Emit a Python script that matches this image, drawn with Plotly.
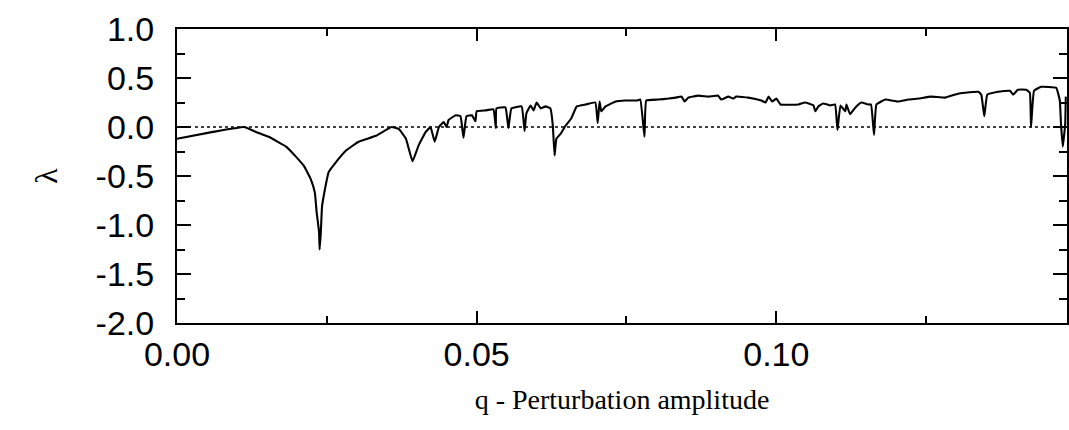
import plotly.graph_objects as go

# q - perturbation amplitude and Lyapunov exponent lambda
q_vals = [0.0000, 0.0060, 0.0112, 0.0132, 0.0153, 0.0182, 0.0198, 0.0212, 0.0223, 0.0230, 0.0233,
          0.0237, 0.0238, 0.0240, 0.0242, 0.0247, 0.0253, 0.0265, 0.0282, 0.0303, 0.0332,
          0.0358, 0.0370, 0.0382, 0.0393, 0.0403, 0.0415, 0.0423, 0.0430, 0.0437, 0.0445,
          0.0450, 0.0453, 0.0465, 0.0473, 0.0478, 0.0483, 0.0492, 0.0498, 0.0500, 0.0515,
          0.0528, 0.0532, 0.0533, 0.0548, 0.0553, 0.0558, 0.0575, 0.0580, 0.0583, 0.0590,
          0.0595, 0.0600, 0.0607, 0.0615, 0.0623, 0.0627, 0.0630, 0.0633, 0.0640, 0.0648,
          0.0658, 0.0667, 0.0682, 0.0698, 0.0702, 0.0705, 0.0708, 0.0715, 0.0732, 0.0748,
          0.0767, 0.0773, 0.0780, 0.0783, 0.0803, 0.0820, 0.0832, 0.0842, 0.0847, 0.0853,
          0.0870, 0.0887, 0.0903, 0.0908, 0.0920, 0.0928, 0.0933, 0.0953, 0.0975, 0.0982,
          0.0987, 0.0993, 0.1000, 0.1007, 0.1037, 0.1048, 0.1062, 0.1065, 0.1070, 0.1078,
          0.1090, 0.1098, 0.1102, 0.1107, 0.1115, 0.1117, 0.1123, 0.1132, 0.1142, 0.1153,
          0.1158, 0.1163, 0.1167, 0.1182, 0.1203, 0.1220, 0.1237, 0.1258, 0.1282, 0.1303,
          0.1315, 0.1337, 0.1342, 0.1347, 0.1352, 0.1370, 0.1390, 0.1395, 0.1403, 0.1417,
          0.1423, 0.1425, 0.1430, 0.1442, 0.1467, 0.1473, 0.1475, 0.1478, 0.1482, 0.1483]
lambda_vals = [-0.12, -0.05, 0.00, -0.05, -0.10, -0.20, -0.30, -0.40, -0.53, -0.67, -0.87,
               -1.07, -1.25, -1.07, -0.81, -0.63, -0.46, -0.36, -0.24, -0.15, -0.09,
               0.00, -0.02, -0.12, -0.35, -0.19, -0.05, 0.00, -0.15, 0.00, 0.05,
               0.00, 0.07, 0.12, 0.11, -0.11, 0.11, 0.12, 0.06, 0.16, 0.17,
               0.18, -0.01, 0.19, 0.20, -0.01, 0.19, 0.21, -0.04, 0.14, 0.22,
               0.17, 0.25, 0.19, 0.21, 0.19, 0.02, -0.29, -0.12, -0.07, 0.01,
               0.09, 0.21, 0.23, 0.25, 0.04, 0.26, 0.16, 0.21, 0.26, 0.27,
               0.27, 0.28, -0.10, 0.27, 0.28, 0.29, 0.30, 0.31, 0.26, 0.30,
               0.32, 0.31, 0.32, 0.28, 0.31, 0.29, 0.31, 0.30, 0.27, 0.25,
               0.31, 0.26, 0.29, 0.23, 0.23, 0.25, 0.22, 0.16, 0.21, 0.24,
               0.22, 0.23, -0.03, 0.22, 0.16, 0.23, 0.13, 0.20, 0.25, 0.23,
               0.23, -0.08, 0.23, 0.28, 0.26, 0.28, 0.29, 0.31, 0.30, 0.34,
               0.35, 0.36, 0.33, 0.11, 0.33, 0.36, 0.37, 0.33, 0.38, 0.38,
               0.35, 0.00, 0.37, 0.41, 0.40, 0.27, 0.03, -0.20, 0.03, 0.31]

# zero reference (dotted)
zero_q = [0.003, 0.146]
zero_lambda = [0.0, 0.0]

x_tickvals = [0.00, 0.05, 0.10]
x_ticktext = ["0.00", "0.05", "0.10"]
y_tickvals = [1.0, 0.5, 0.0, -0.5, -1.0, -1.5, -2.0]
y_ticktext = ["1.0", "0.5", "0.0", "-0.5", "-1.0", "-1.5", "-2.0"]

fig = go.Figure()
fig.add_trace(go.Scatter(x=zero_q, y=zero_lambda, mode="lines",
                         line=dict(color="black", width=1.6, dash="dot"),
                         showlegend=False, hoverinfo="skip"))
fig.add_trace(go.Scatter(x=q_vals, y=lambda_vals, mode="lines",
                         line=dict(color="black", width=2.1, shape="spline", smoothing=0.3),
                         showlegend=False))

fig.update_layout(
    width=1069, height=430,
    margin=dict(l=177, r=0, t=29, b=107),
    paper_bgcolor="white", plot_bgcolor="white",
    font=dict(family="Liberation Sans", color="black"),
)
fig.update_xaxes(
    range=[0, 0.1485], showgrid=False, zeroline=False,
    showline=True, linecolor="black", linewidth=2, mirror="ticks",
    ticks="inside", ticklen=12, tickwidth=1.5, tickcolor="black",
    tickvals=x_tickvals, ticktext=x_ticktext,
    tickfont=dict(family="Liberation Sans", size=34),
    minor=dict(dtick=0.025, tick0=0, ticks="inside", ticklen=7, tickwidth=1.5, tickcolor="black"),
    title=dict(text="q - Perturbation amplitude",
               font=dict(family="Liberation Serif", size=28), standoff=18),
)
fig.update_yaxes(
    range=[-2, 1], showgrid=False, zeroline=False,
    showline=True, linecolor="black", linewidth=2, mirror="ticks",
    ticks="inside", ticklen=14, tickwidth=1.5, tickcolor="black",
    tickvals=y_tickvals, ticktext=y_ticktext,
    tickfont=dict(family="Liberation Sans", size=34),
    ticklabelstandoff=14,
    minor=dict(dtick=0.25, tick0=0, ticks="inside", ticklen=8, tickwidth=1.5, tickcolor="black"),
    title=dict(text="λ", font=dict(family="Liberation Serif", size=32), standoff=28),
)

fig.write_html("out.html")
